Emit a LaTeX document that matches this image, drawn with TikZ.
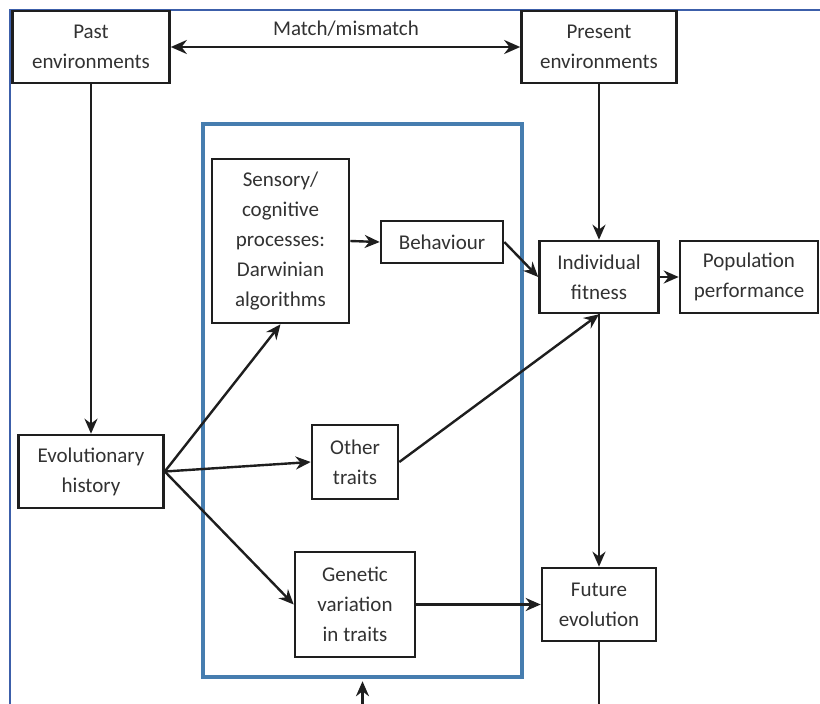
\documentclass[tikz,border=0pt]{standalone}
\usepackage{fontspec}
\setmainfont{Carlito}
\usetikzlibrary{arrows.meta}
\definecolor{framecol}{RGB}{60,95,170}
\definecolor{focuscol}{RGB}{70,125,175}
\definecolor{inkcol}{RGB}{30,30,30}
\definecolor{textcol}{RGB}{50,50,50}
\begin{document}
\begin{tikzpicture}
[x=1pt, y=-1pt,
 block/.style ={rectangle, draw=inkcol, line width=2.6pt, fill=white, align=center, text=textcol, inner sep=0pt, font=\fontsize{21}{30}\selectfont},
 tag/.style ={text=textcol, inner sep=0pt, font=\fontsize{21}{30}\selectfont},
 focus/.style ={rectangle, draw=focuscol, line width=4.5pt},
 line/.style ={draw=inkcol, line width=2.4pt, -{Stealth[length=15pt,width=13pt]}},
 frame/.style ={draw=framecol, line width=1.5pt}]
\useasboundingbox (0,0) rectangle (820,704);
\clip (0,0) rectangle (820,704);
\fill[white] (0,0) rectangle (820,704);
\draw[frame] (10,704) -- (10,10) -- (820,10);
\node[focus, minimum width=319pt, minimum height=553pt] (box) at (362.5,400.5) {};
\path (91,47) node[block, minimum width=157pt, minimum height=72pt] (past) {Past\\environments}
      (599,47) node[block, minimum width=155pt, minimum height=72pt] (present) {Present\\environments}
      (280.5,241) node[block, minimum width=137pt, minimum height=164pt] (sens) {Sensory/\\cognitive\\processes:\\Darwinian\\algorithms}
      (442,242) node[block, minimum width=122pt, minimum height=42pt] (behav) {Behaviour}
      (599,277) node[block, minimum width=119pt, minimum height=72pt] (fit) {Individual\\fitness}
      (749,277) node[block, minimum width=138pt, minimum height=72pt] (pop) {Population\\performance}
      (91,471.5) node[block, minimum width=145pt, minimum height=73pt] (evo) {Evolutionary\\history}
      (355,462) node[block, minimum width=86pt, minimum height=74pt] (other) {Other\\traits}
      (355,604.5) node[block, minimum width=120pt, minimum height=105pt] (gen) {Genetic\\variation\\in traits}
      (599,604.5) node[block, minimum width=114pt, minimum height=73pt] (fut) {Future\\evolution};
\node[tag] (match) at (346,29) {Match/mismatch};
\draw[line, {Stealth[length=16pt,width=14pt]}-{Stealth[length=16pt,width=14pt]}] (past) -- (present);
\draw[line] (past.south) -- (evo.north);
\draw[line] (present.south) -- (fit.north);
\draw[line] (sens.east) -- (behav.west);
\draw[line] (behav.east) -- (fit.west);
\draw[line] (fit.east) -- (pop.west);
\draw[line] (evo.east) -- (sens.south);
\draw[line] (evo.east) -- (other.west);
\draw[line] (evo.east) -- (gen.west);
\draw[line] (other.east) -- (fit.south);
\draw[line] (fit.south) -- (fut.north);
\draw[line] (gen.east) -- (fut.west);
\draw[line, shorten >=2pt] (fut.south) -- ++(0,80) -| (box.south);
\end{tikzpicture}
\end{document}
